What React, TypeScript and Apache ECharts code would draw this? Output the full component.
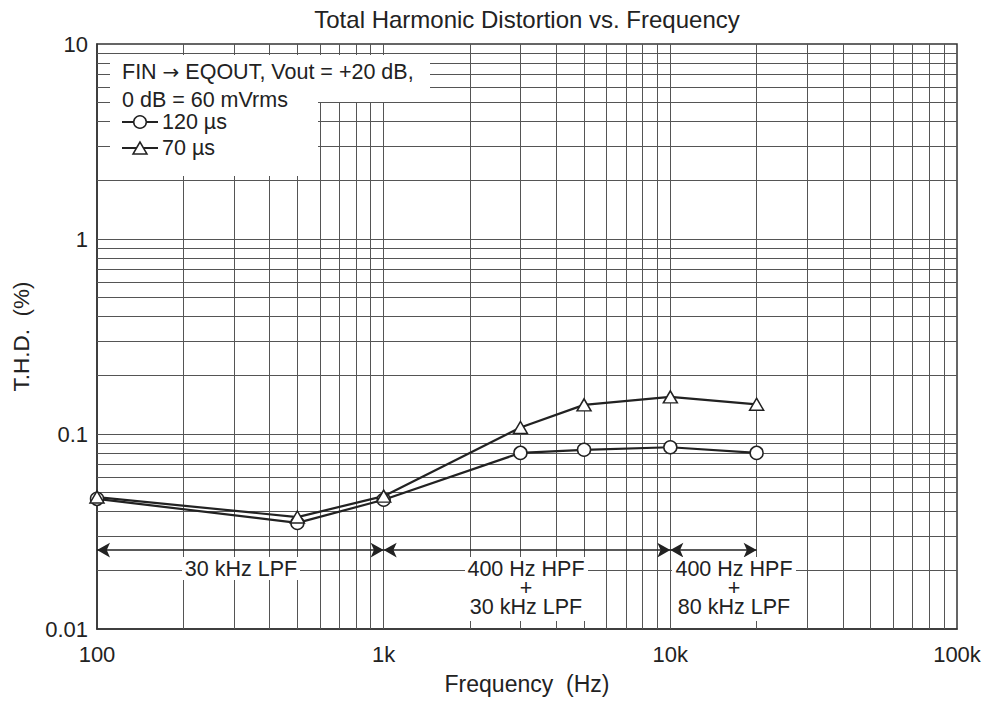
import React, { useEffect, useRef } from "react";
import * as echarts from "echarts";

const FONT = '"Liberation Sans", Arial, Helvetica, sans-serif';
const INK = "#222";
const GRID = "#555";

// measured data (frequency in Hz, THD in %)
const freqs = [100, 500, 1000, 3000, 5000, 10000, 20000];
const thd120us = [0.0465, 0.035, 0.046, 0.08, 0.083, 0.0855, 0.08];
const thd70us = [0.0475, 0.0375, 0.048, 0.108, 0.141, 0.155, 0.142];

// axis ticks
const xTickValues = [100, 1000, 10000, 100000];
const xTickLabels = ["100", "1k", "10k", "100k"];
const yTickValues = [0.01, 0.1, 1, 10];
const yTickLabels = ["0.01", "0.1", "1", "10"];

// log grid lines
const xGridValues = [
  200, 300, 400, 500, 600, 700, 800, 900, 1000,
  2000, 3000, 4000, 5000, 6000, 7000, 8000, 9000, 10000,
  20000, 30000, 40000, 50000, 60000, 70000, 80000, 90000,
];
const yGridValues = [
  0.02, 0.03, 0.04, 0.05, 0.06, 0.07, 0.08, 0.09, 0.1,
  0.2, 0.3, 0.4, 0.5, 0.6, 0.7, 0.8, 0.9, 1,
  2, 3, 4, 5, 6, 7, 8, 9,
];

// filter bands (start Hz, end Hz) and their level on the y axis
const bandStarts = [100, 1000, 10000];
const bandEnds = [1000, 10000, 20000];
const bandLevel = 0.0254;
const bandLabels = ["30 kHz LPF", "400 Hz HPF\n+\n30 kHz LPF", "400 Hz HPF\n+\n80 kHz LPF"];

const titleText = "Total Harmonic Distortion vs. Frequency";
const xName = "Frequency  (Hz)";
const yName = "T.H.D.  (%)";
const legendLine1 = "FIN {arr|\u2192} EQOUT, Vout = +20 dB,";
const legendLine2 = "0 dB = 60 mVrms";
const seriesNames = ["120 \u00b5s", "70 \u00b5s"];

function labelFor(values: number[], labels: string[]) {
  return (v: number) => {
    const i = values.findIndex((t) => Math.abs(Math.log10(v) - Math.log10(t)) < 0.01);
    return i >= 0 ? labels[i] : "";
  };
}

function txt(text: string, x: number, y: number, size: number, align = "center", extra: any = {}) {
  return {
    type: "text",
    x,
    y,
    z: 20,
    silent: true,
    style: {
      text,
      fill: INK,
      fontSize: size,
      fontFamily: FONT,
      textAlign: align,
      align,
      textVerticalAlign: "middle",
      verticalAlign: "middle",
      ...extra,
    },
  };
}

function box(x: number, y: number, width: number, height: number) {
  return {
    type: "rect",
    z: 15,
    silent: true,
    shape: { x, y, width, height },
    style: { fill: "#fff", stroke: null },
  };
}

export default function App() {
  const ref = useRef<HTMLDivElement>(null);

  useEffect(() => {
    if (!ref.current) return;
    const chart = echarts.init(ref.current, null, { renderer: "svg" });

    const option: any = {
      animation: false,
      backgroundColor: "#fff",
      textStyle: { fontFamily: FONT, color: INK },
      grid: {
        left: 97,
        top: 44,
        right: 33,
        bottom: 75,
        show: true,
        borderColor: "#333",
        borderWidth: 1.5,
        backgroundColor: "#fff",
      },
      xAxis: {
        type: "log",
        logBase: 10,
        min: 100,
        max: 100000,
        name: xName,
        nameLocation: "middle",
        nameGap: 43,
        nameTextStyle: { fontSize: 23, color: INK, fontFamily: FONT },
        axisLine: { show: true, lineStyle: { color: "#333", width: 1.5 } },
        axisTick: { show: false },
        minorTick: { show: false },
        splitLine: { show: false },
        axisLabel: {
          formatter: labelFor(xTickValues, xTickLabels),
          fontSize: 22,
          color: INK,
          margin: 14,
          fontFamily: FONT,
        },
      },
      yAxis: {
        type: "log",
        logBase: 10,
        min: 0.01,
        max: 10,
        name: yName,
        nameLocation: "middle",
        nameGap: 64,
        nameRotate: 90,
        nameTextStyle: { fontSize: 22.5, color: INK, fontFamily: FONT },
        axisLine: { show: true, lineStyle: { color: "#333", width: 1.5 } },
        axisTick: { show: false },
        minorTick: { show: false },
        splitLine: { show: false },
        axisLabel: {
          formatter: labelFor(yTickValues, yTickLabels),
          fontSize: 22,
          color: INK,
          margin: 9,
          fontFamily: FONT,
        },
      },
      series: [
        {
          type: "line",
          name: "grid",
          z: 1,
          silent: true,
          data: [],
          markLine: {
            silent: true,
            symbol: "none",
            animation: false,
            label: { show: false },
            emphasis: { disabled: true },
            lineStyle: { color: GRID, width: 1, type: "solid" },
            data: [
              ...xGridValues.map((v) => ({ xAxis: v })),
              ...yGridValues.map((v) => ({ yAxis: v })),
            ],
          },
        },
        {
          type: "line",
          name: "bands",
          z: 3,
          silent: true,
          data: [],
          markLine: {
            silent: true,
            symbol: ["arrow", "arrow"],
            symbolSize: [11, 13],
            animation: false,
            label: { show: false },
            emphasis: { disabled: true },
            lineStyle: { color: INK, width: 1.5, type: "solid" },
            data: bandStarts.map((s, i) => [
              { coord: [s, bandLevel] },
              { coord: [bandEnds[i], bandLevel] },
            ]),
          },
        },
        {
          type: "line",
          name: seriesNames[0],
          z: 5,
          data: freqs.map((f, i) => [f, thd120us[i]]),
          symbol: "circle",
          symbolSize: 13,
          showAllSymbol: true,
          lineStyle: { color: INK, width: 2.2 },
          itemStyle: { color: "#fff", borderColor: INK, borderWidth: 1.5 },
        },
        {
          type: "line",
          name: seriesNames[1],
          z: 5,
          data: freqs.map((f, i) => [f, thd70us[i]]),
          symbol: "triangle",
          symbolSize: [14, 12],
          showAllSymbol: true,
          lineStyle: { color: INK, width: 2.2 },
          itemStyle: { color: "#fff", borderColor: INK, borderWidth: 1.5 },
        },
      ],
      graphic: [
        txt(titleText, 527, 19, 24),
        // legend boxes
        box(110, 55, 320, 47),
        box(110, 102, 208, 74),
        txt(legendLine1, 122, 72, 21.5, "left", {
          rich: { arr: { fontFamily: '"DejaVu Sans", sans-serif', fontSize: 20, fill: INK } },
        }),
        txt(legendLine2, 122, 100, 21.5, "left"),
        {
          type: "line",
          z: 20,
          silent: true,
          shape: { x1: 122, y1: 122, x2: 158, y2: 122 },
          style: { stroke: INK, lineWidth: 2.2 },
        },
        {
          type: "circle",
          z: 21,
          silent: true,
          shape: { cx: 140, cy: 122, r: 6.3 },
          style: { fill: "#fff", stroke: INK, lineWidth: 1.5 },
        },
        txt(seriesNames[0], 162, 122, 21.5, "left"),
        {
          type: "line",
          z: 20,
          silent: true,
          shape: { x1: 122, y1: 148, x2: 158, y2: 148 },
          style: { stroke: INK, lineWidth: 2.2 },
        },
        {
          type: "polygon",
          z: 21,
          silent: true,
          shape: { points: [[140, 142], [133, 154], [147, 154]] },
          style: { fill: "#fff", stroke: INK, lineWidth: 1.5 },
        },
        txt(seriesNames[1], 162, 148, 21.5, "left"),
        // band annotation boxes
        box(182, 557, 118, 23),
        box(465, 557, 123, 64),
        box(672, 557, 124, 64),
        txt(bandLabels[0], 241, 569, 21.5),
        txt(bandLabels[1], 526, 588, 21.5, "center", { lineHeight: 19 }),
        txt(bandLabels[2], 734, 588, 21.5, "center", { lineHeight: 19 }),
      ],
    };

    chart.setOption(option);
    return () => chart.dispose();
  }, []);

  return (
    <div
      ref={ref}
      style={{ position: "fixed", left: 0, top: 0, width: 990, height: 704, background: "#fff" }}
    />
  );
}
